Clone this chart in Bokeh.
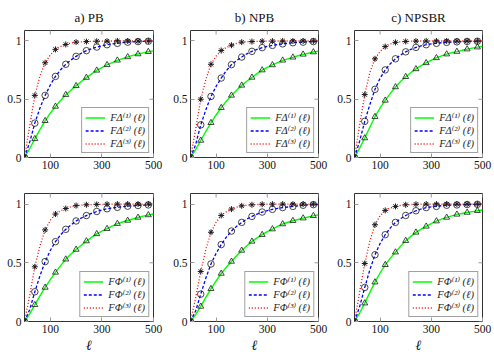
import math
from bokeh.plotting import figure
from bokeh.layouts import gridplot
from bokeh.models import Range1d, FixedTicker, Legend, LegendItem
from bokeh.embed import file_html
from bokeh.resources import INLINE

# abscissa (ell) sampled every 20; marks every 40 (0..480)
ell = list(range(0, 501, 20))

panel_titles = ["a) PB", "b) NPB", "c) NPSBR"]
x_ticks = [100, 300, 500]
y_ticks = [0, 0.5, 1]
x_max = 500
y_max = 1.09

# ---- top row: F_Delta ----
delta_pb_1 = [0, .075, .16, .24, .315, .38, .438, .49, .539, .578, .615, .652, .686, .718, .748, .772, .795, .815, .834, .849, .863, .876, .888, .898, .908, .915]
delta_pb_2 = [0, .13, .295, .425, .533, .622, .696, .753, .80, .837, .868, .895, .917, .934, .948, .959, .968, .975, .98, .986, .99, .993, .995, .997, .998, .999]
delta_pb_3 = [0, .27, .533, .70, .813, .88, .928, .952, .97, .982, .99, .993, .995, .997, .998, .999, .999, 1, 1, 1, 1, 1, 1, 1, 1, 1]

delta_npb_1 = [0, .068, .146, .225, .298, .365, .427, .483, .533, .578, .619, .654, .687, .72, .75, .773, .794, .815, .834, .847, .86, .873, .885, .895, .905, .913]
delta_npb_2 = [0, .11, .28, .41, .524, .61, .682, .745, .797, .832, .862, .89, .911, .928, .943, .953, .962, .969, .975, .98, .985, .988, .99, .993, .995, .996]
delta_npb_3 = [0, .24, .50, .67, .80, .87, .918, .945, .964, .98, .99, .993, .995, .997, .998, .999, .999, 1, 1, 1, 1, 1, 1, 1, 1, 1]

delta_npsbr_1 = [0, .08, .167, .26, .35, .425, .49, .55, .605, .652, .693, .728, .76, .788, .812, .835, .855, .872, .887, .899, .909, .92, .93, .939, .947, .953]
delta_npsbr_2 = [0, .14, .31, .455, .585, .68, .752, .805, .847, .88, .907, .928, .945, .958, .968, .975, .98, .985, .988, .991, .993, .995, .996, .997, .998, .998]
delta_npsbr_3 = [0, .28, .54, .73, .847, .91, .952, .975, .988, .993, .996, .998, .999, 1, 1, 1, 1, 1, 1, 1, 1, 1, 1, 1, 1, 1]

# ---- bottom row: F_Phi ----
phi_pb_1 = [0, .065, .142, .218, .29, .357, .418, .476, .53, .574, .613, .65, .685, .717, .746, .769, .79, .812, .833, .847, .86, .873, .886, .897, .907, .915]
phi_pb_2 = [0, .10, .253, .39, .51, .605, .68, .738, .785, .823, .856, .881, .902, .921, .937, .95, .96, .966, .972, .977, .982, .985, .988, .991, .993, .995]
phi_pb_3 = [0, .22, .466, .645, .78, .862, .915, .943, .962, .977, .987, .991, .994, .996, .997, .998, .999, .999, 1, 1, 1, 1, 1, 1, 1, 1]

phi_npb_1 = [0, .058, .128, .205, .278, .345, .409, .462, .511, .56, .605, .645, .682, .712, .739, .765, .787, .81, .83, .845, .858, .869, .88, .89, .90, .908]
phi_npb_2 = [0, .09, .233, .37, .49, .58, .655, .718, .77, .81, .844, .872, .895, .915, .932, .945, .955, .963, .97, .975, .98, .985, .99, .993, .995, .996]
phi_npb_3 = [0, .20, .426, .615, .76, .845, .903, .935, .957, .973, .985, .99, .994, .996, .998, .999, .999, 1, 1, 1, 1, 1, 1, 1, 1, 1]

phi_npsbr_1 = [0, .072, .156, .248, .335, .413, .483, .54, .59, .642, .688, .725, .759, .786, .81, .834, .855, .872, .886, .9, .912, .92, .928, .936, .943, .95]
phi_npsbr_2 = [0, .125, .29, .44, .568, .665, .739, .797, .844, .876, .903, .925, .943, .958, .97, .976, .98, .986, .99, .992, .993, .995, .996, .997, .998, .998]
phi_npsbr_3 = [0, .25, .494, .685, .824, .9, .946, .967, .98, .988, .994, .996, .998, .999, 1, 1, 1, 1, 1, 1, 1, 1, 1, 1, 1, 1]

SERIF = "'Liberation Serif', 'DejaVu Serif', serif"
TICK_COL = "#9a9a9a"
MARK_COL = "#1a1a1a"


def style_axis(ax):
    ax.axis_line_color = None
    ax.major_tick_in = 4
    ax.major_tick_out = 0
    ax.minor_tick_in = 0
    ax.minor_tick_out = 0
    ax.major_tick_line_color = TICK_COL
    ax.major_tick_line_width = 1
    ax.major_label_text_font = SERIF
    ax.major_label_text_font_size = "11.5px"
    ax.major_label_text_color = "#111111"
    ax.major_label_standoff = 3


def panel(title, sym, s1, s2, s3, width, height, bl, br, bt, bb, bottom_row):
    p = figure(width=width, height=height, output_backend="svg", toolbar_location=None,
               tools="", title=title,
               x_range=Range1d(0, x_max), y_range=Range1d(0, y_max),
               min_border_left=bl, min_border_right=br, min_border_top=bt, min_border_bottom=bb,
               background_fill_color="white", border_fill_color="white")
    p.outline_line_color = "#333333"
    p.outline_line_width = 1
    p.xgrid.visible = False
    p.ygrid.visible = False
    if title is not None:
        p.title.align = "center"
        p.title.text_font = SERIF
        p.title.text_font_size = "13px"
        p.title.text_font_style = "normal"
        p.title.text_color = "#111111"
        p.title.standoff = 12

    xb = p.below[0]
    xb.ticker = FixedTicker(ticks=x_ticks)
    style_axis(xb)
    yl = p.left[0]
    yl.ticker = FixedTicker(ticks=y_ticks)
    yl.major_label_overrides = {0: "0", 0.5: "0.5", 1: "1"}
    style_axis(yl)

    # mirrored inner ticks on top and right edges (half of each dash is clipped by the frame)
    p.scatter(x_ticks, [y_max] * len(x_ticks), marker="dash", angle=math.pi / 2, size=8,
              line_color=TICK_COL, line_width=1)
    p.scatter([x_max] * len(y_ticks), y_ticks, marker="dash", size=8,
              line_color=TICK_COL, line_width=1)

    if bottom_row:
        xb.axis_label = "ℓ"
        xb.axis_label_text_font = SERIF
        xb.axis_label_text_font_style = "italic"
        xb.axis_label_text_font_size = "14px"
        xb.axis_label_text_color = "#111111"
        xb.axis_label_standoff = 2

    mx = ell[0:25:2]
    r1 = p.line(ell, s1, line_color="#00ff00", line_width=1.4)
    p.scatter(mx, s1[0:25:2], marker="triangle", size=6, fill_color=None,
              line_color=MARK_COL, line_width=0.8)
    r2 = p.line(ell, s2, line_color="#0000ff", line_width=1.3, line_dash="3 2")
    p.scatter(mx, s2[0:25:2], marker="circle", size=6.5, fill_color=None,
              line_color=MARK_COL, line_width=0.8)
    r3 = p.line(ell, s3, line_color="#ff0000", line_width=1.3, line_dash="1 2")
    p.scatter(mx, s3[0:25:2], marker="asterisk", size=6, fill_color=None,
              line_color=MARK_COL, line_width=1)

    items = [LegendItem(label=f"F{sym}⁽{k}⁾ (ℓ)", renderers=[r]) for k, r in zip("¹²³", [r1, r2, r3])]
    lg = Legend(items=items, location="bottom_right", margin=4, padding=3, spacing=1,
                glyph_width=20, glyph_height=11, label_height=11, label_standoff=5,
                label_text_font=SERIF, label_text_font_style="italic",
                label_text_font_size="10.5px", label_text_color="#222222",
                border_line_color="#444444", border_line_width=1,
                background_fill_color="white", background_fill_alpha=1)
    p.add_layout(lg)
    return p


widths = [170, 164, 160]
lr = [(24, 17), (18, 16), (18, 12)]
top_series = [(delta_pb_1, delta_pb_2, delta_pb_3),
              (delta_npb_1, delta_npb_2, delta_npb_3),
              (delta_npsbr_1, delta_npsbr_2, delta_npsbr_3)]
bot_series = [(phi_pb_1, phi_pb_2, phi_pb_3),
              (phi_npb_1, phi_npb_2, phi_npb_3),
              (phi_npsbr_1, phi_npsbr_2, phi_npsbr_3)]

row1 = [panel(panel_titles[i], "Δ", *top_series[i], widths[i], 175, lr[i][0], lr[i][1], 30, 18, False)
        for i in range(3)]
row2 = [panel(None, "Φ", *bot_series[i], widths[i], 180, lr[i][0], lr[i][1], 18, 34, True)
        for i in range(3)]

grid = gridplot([row1, row2], toolbar_location=None)
open("out.html", "w").write(file_html(grid, INLINE))
